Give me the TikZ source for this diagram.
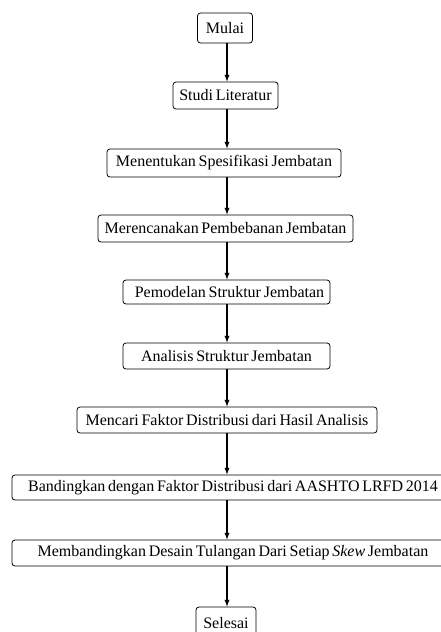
\documentclass[tikz,border=0pt]{standalone}
\usepackage{fontspec}
\setmainfont{Liberation Serif}
\usepackage{tikz}
\usetikzlibrary{positioning, shapes, arrows}

\newcommand{\boxfont}{\fontsize{16}{18}\selectfont\spaceskip=0.17em plus 0.05em\relax}
\tikzset{
  box/.style={draw, rounded corners=3pt, line width=0.8pt, inner sep=0pt,
    minimum height=26pt, font=\boxfont},
  flow/.style={-latex, line width=1.3pt}
}

\begin{document}
\begin{tikzpicture}[x=1pt, y=1pt]
  \useasboundingbox (0,0) rectangle (441,-632);
  \node[box, minimum width=55pt, minimum height=30pt] (mulai) at (225,-28) {Mulai};
  \node[box, minimum width=105pt, minimum height=27pt] (studi) at (225.5,-95.5) {Studi Literatur};
  \node[box, minimum width=234pt, minimum height=28pt] (spek) at (224,-163) {Menentukan Spesifikasi Jembatan};
  \node[box, minimum width=255pt, minimum height=27pt] (beban) at (225.5,-228.5) {Merencanakan Pembebanan Jembatan};
  \node[box, minimum width=207pt, minimum height=24pt] (model) at (226.5,-292) {\hspace{6pt}Pemodelan Struktur Jembatan};
  \node[box, minimum width=207pt] (analisis) at (226.5,-356) {Analisis Struktur Jembatan};
  \node[box, minimum width=300pt] (faktor) at (227,-420) {Mencari Faktor Distribusi dari Hasil Analisis};
  \node[box, minimum width=442pt, minimum height=25pt] (banding) at (233,-487.5) {Bandingkan dengan Faktor Distribusi dari AASHTO LRFD 2014\hspace{12pt}};
  \node[box, minimum width=442pt] (desain) at (233,-553) {Membandingkan Desain Tulangan Dari Setiap \textit{Skew} Jembatan\hspace{12pt}};
  \node[box, minimum width=60pt, minimum height=34pt] (selesai) at (226,-624) {\raisebox{2pt}{Selesai}};
  \draw[flow] (mulai.south -| 227,0) -- (studi.north -| 227,0);
  \draw[flow] (studi.south -| 227,0) -- (spek.north -| 227,0);
  \draw[flow] (spek.south -| 227,0) -- (beban.north -| 227,0);
  \draw[flow] (beban.south -| 227,0) -- (model.north -| 227,0);
  \draw[flow] (model.south -| 227,0) -- (analisis.north -| 227,0);
  \draw[flow] (analisis.south -| 227,0) -- (faktor.north -| 227,0);
  \draw[flow] (faktor.south -| 227,0) -- (banding.north -| 227,0);
  \draw[flow] (banding.south -| 227,0) -- (desain.north -| 227,0);
  \draw[flow] (desain.south -| 227,0) -- (selesai.north -| 227,0);
\end{tikzpicture}
\end{document}
